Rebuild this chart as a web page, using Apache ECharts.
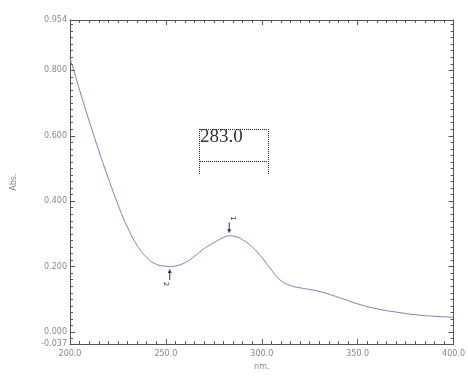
<!DOCTYPE html>
<html>
<head>
<meta charset="utf-8" />
<title>Absorption spectrum</title>
<script src="https://cdn.jsdelivr.net/npm/echarts@6/dist/echarts.min.js"></script>
<style>
  html, body { margin: 0; padding: 0; background: #fff; }
  #wrap { position: relative; width: 468px; height: 376px; }
  .box { position: absolute; left: 199px; top: 129px; width: 68px; height: 31px; border: 1px dotted #222; }
  .box2 { position: absolute; left: 199px; top: 161px; width: 68px; height: 12px;
          border-left: 1px dotted #222; border-right: 1px dotted #222; border-top: 1px dotted #222; }
  .peak { position: absolute; left: 200px; top: 125px; font: 19px "Liberation Serif", serif; color: #333; }
</style>
</head>
<body>
<div id="wrap">
  <div id="main" style="width:468px;height:376px"></div>
  <div class="box"></div>
  <div class="box2"></div>
  <div class="peak" id="peakText"></div>
</div>
<script type="text/javascript">
  // wavelength (nm) and absorbance
  var wavelength = [200, 202, 205, 210, 215, 220, 225, 230, 235, 240, 245, 250, 252, 255, 260, 265, 270, 275, 280, 283, 286, 290, 295, 300, 305, 310, 315, 320, 330, 340, 350, 360, 370, 380, 390, 400];
  var absorbance = [0.835, 0.800, 0.740, 0.645, 0.555, 0.470, 0.390, 0.320, 0.265, 0.228, 0.207, 0.201, 0.200, 0.202, 0.212, 0.232, 0.255, 0.273, 0.289, 0.294, 0.292, 0.282, 0.260, 0.228, 0.190, 0.157, 0.142, 0.135, 0.124, 0.106, 0.086, 0.071, 0.061, 0.053, 0.048, 0.045];
  var yLabelValues = [-0.037, 0.000, 0.200, 0.400, 0.600, 0.800, 0.954];
  var yMinorValues = [];
  for (var k = -1; k <= 47; k++) yMinorValues.push(+(k * 0.02).toFixed(2));
  // picked peaks: nm, abs, number
  var peakNm = [283.0, 252.0];
  var peakAbs = [0.294, 0.200];
  var peakNo = ['1', '2'];
  var peakBoxText = '283.0';

  var axisCol = '#555';
  var labelCol = '#888';
  var markCol = '#334';
  // small arrow, tip at top, stem below
  var arrowPath = 'path://M0,0 L-2,4 L-0.5,4 L-0.5,11 L0.5,11 L0.5,4 L2,4 Z';

  document.getElementById('peakText').textContent = peakBoxText;

  function yAxisCfg(pos, values, len, showLabel) {
    return {
      type: 'value', position: pos, min: -0.037, max: 0.954,
      name: showLabel ? 'Abs.' : '', nameLocation: 'middle', nameGap: 52,
      nameTextStyle: { color: labelCol, fontSize: 8, fontFamily: 'DejaVu Sans' },
      splitLine: { show: false },
      axisLine: { show: true, lineStyle: { color: axisCol, width: 1 } },
      axisTick: { show: true, inside: true, length: len, customValues: values, lineStyle: { color: axisCol } },
      axisLabel: {
        show: showLabel, customValues: yLabelValues, color: labelCol, fontSize: 8, margin: 3,
        fontFamily: 'DejaVu Sans', hideOverlap: false,
        formatter: function (v) { return v.toFixed(3); }
      }
    };
  }

  function xAxisCfg(pos, showLabel) {
    return {
      type: 'value', position: pos, min: 200, max: 400, interval: 50,
      name: showLabel ? 'nm.' : '', nameLocation: 'middle', nameGap: 18,
      nameTextStyle: { color: labelCol, fontSize: 8, fontFamily: 'DejaVu Sans' },
      splitLine: { show: false },
      axisLine: { show: true, onZero: false, lineStyle: { color: axisCol, width: 1 } },
      axisTick: { show: true, inside: true, length: 5, lineStyle: { color: axisCol } },
      minorTick: { show: true, splitNumber: 10, length: 3, lineStyle: { color: axisCol } },
      axisLabel: {
        show: showLabel, color: labelCol, fontSize: 8, margin: 6, fontFamily: 'DejaVu Sans',
        formatter: function (v) { return v.toFixed(1); }
      }
    };
  }

  var marks = peakNm.map(function (nm, i) {
    var above = i === 0;
    return {
      coord: [nm, peakAbs[i]],
      symbol: arrowPath,
      symbolSize: [4, 11],
      symbolRotate: above ? 180 : 0,
      symbolOffset: [0, above ? -8 : 8],
      label: {
        show: true, formatter: peakNo[i], rotate: -90,
        position: above ? 'top' : 'bottom', distance: 4,
        color: markCol, fontSize: 7, fontFamily: 'DejaVu Sans'
      }
    };
  });

  var chart = echarts.init(document.getElementById('main'));
  chart.setOption({
    animation: false,
    grid: { left: 70, right: 10, top: 20, bottom: 30 },
    xAxis: [xAxisCfg('bottom', true), xAxisCfg('top', false)],
    yAxis: [
      yAxisCfg('left', yLabelValues, 5, true),
      yAxisCfg('left', yMinorValues, 3, false),
      yAxisCfg('right', yLabelValues, 5, false),
      yAxisCfg('right', yMinorValues, 3, false)
    ],
    series: [{
      type: 'line',
      xAxisIndex: 0, yAxisIndex: 0,
      data: wavelength.map(function (w, i) { return [w, absorbance[i]]; }),
      smooth: true,
      symbol: 'none',
      lineStyle: { color: '#7b7eb9', width: 1 },
      markPoint: { silent: true, itemStyle: { color: markCol }, data: marks }
    }]
  });
</script>
</body>
</html>
